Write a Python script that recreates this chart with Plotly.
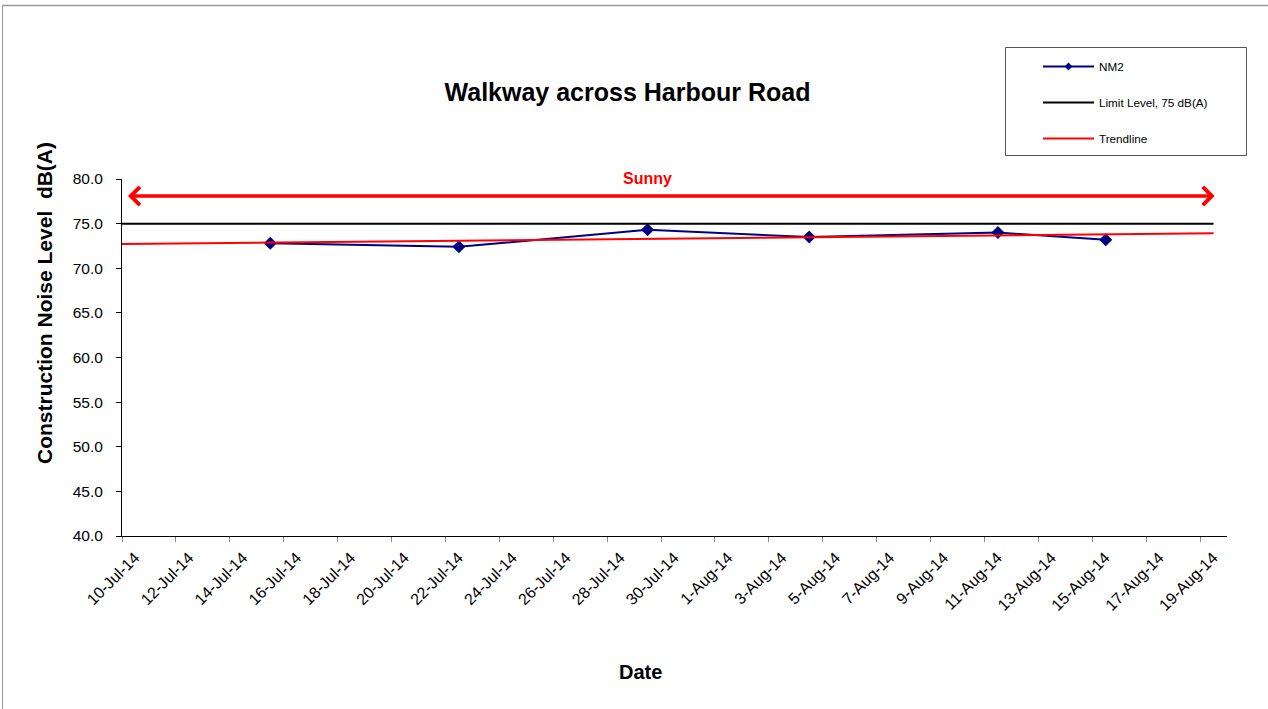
import numpy as np
import pandas as pd
import plotly.graph_objects as go

# ---------------- data ----------------
chart_title = "Walkway across Harbour Road"
x_title = "Date"
y_title = "Construction Noise Level&nbsp; dB(A)"
nm2_dates = ["2014-07-15 12:00", "2014-07-22 12:00", "2014-07-29 12:00",
             "2014-08-04 12:00", "2014-08-11 12:00", "2014-08-15 12:00"]
nm2_values = [72.8, 72.4, 74.3, 73.5, 74.0, 73.2]
limit_dates = ["2014-07-10 00:00", "2014-08-19 12:00"]
limit_values = [75.0, 75.0]
trend_dates = ["2014-07-10 00:00", "2014-08-19 12:00"]
weather_label = "Sunny"
weather_label_date = "2014-07-29 12:00"
weather_start = "2014-07-10 04:00"
weather_end = "2014-08-19 13:00"
weather_level = 78.1
x_range = ["2014-07-10", "2014-08-20"]
y_range = [40, 80]

# linear trendline fitted to the NM2 readings
t0 = pd.Timestamp("2014-07-10")
xd = (pd.to_datetime(nm2_dates, format="ISO8601") - t0) / pd.Timedelta(days=1)
slope, intercept = np.polyfit(np.asarray(xd, dtype=float), np.asarray(nm2_values), 1)
td = (pd.to_datetime(trend_dates, format="ISO8601") - t0) / pd.Timedelta(days=1)
trend_values = [float(v) for v in intercept + slope * np.asarray(td, dtype=float)]

# ---------------- layout geometry ----------------
W, H = 1268, 709
ML, MR, MT, MB = 122, 41, 179, 173
PW, PH = W - ML - MR, H - MT - MB


def px2x(px):
    return (px - ML) / PW


def py2y(py):
    return (H - MB - py) / PH


FONT = "Liberation Sans, Arial, sans-serif"
NAVY = "#000080"

fig = go.Figure()
fig.add_trace(go.Scatter(
    x=nm2_dates, y=nm2_values, name="NM2", mode="lines+markers",
    line=dict(color=NAVY, width=2),
    marker=dict(symbol="diamond", size=10, color=NAVY),
    legendgroup="a", showlegend=False))
# legend entry for NM2 (smaller marker, as in the original legend)
fig.add_trace(go.Scatter(
    x=[None], y=[None], name="NM2", mode="lines+markers",
    line=dict(color=NAVY, width=2),
    marker=dict(symbol="diamond", size=6, color=NAVY),
    legendgroup="a", showlegend=True))
fig.add_trace(go.Scatter(
    x=limit_dates, y=limit_values, name="Limit Level, 75 dB(A)", mode="lines",
    line=dict(color="black", width=2), legendgroup="b"))
fig.add_trace(go.Scatter(
    x=trend_dates, y=trend_values, name="Trendline", mode="lines",
    line=dict(color="#FF0000", width=2), legendgroup="c"))

fig.update_layout(
    width=W, height=H,
    margin=dict(l=ML, r=MR, t=MT, b=MB, autoexpand=False),
    paper_bgcolor="white", plot_bgcolor="white",
    font=dict(family=FONT, color="black"),
    title=dict(text="<b>%s</b>" % chart_title, xref="container", yref="container",
               x=627.5 / W, y=1 - 92 / H, xanchor="center", yanchor="middle",
               font=dict(size=25, family=FONT, color="black")),
    showlegend=True,
    legend=dict(xref="container", yref="container", x=1038 / W, y=1 - 52 / H,
                xanchor="left", yanchor="top", bgcolor="rgba(0,0,0,0)",
                borderwidth=0, font=dict(size=11.7, family=FONT, color="black"),
                itemwidth=51, traceorder="grouped", tracegroupgap=17),
    xaxis=dict(type="date", range=x_range, tick0="2014-07-10", dtick=2 * 86400000,
               tickformat="%-d-%b-%y", tickangle=-45, ticks="outside", ticklen=5,
               tickcolor="#888888", showgrid=False, zeroline=False,
               showline=True, linecolor="black", linewidth=1,
               ticklabelshift=13,
               tickfont=dict(size=16, family=FONT, color="black")),
    yaxis=dict(range=y_range, dtick=5, tickformat=".1f", ticks="outside", ticklen=5,
               tickcolor="black", showgrid=False, zeroline=False,
               showline=True, linecolor="black", linewidth=1,
               ticklabelstandoff=10,
               tickfont=dict(size=15.5, family=FONT, color="black")),
)

# axis titles (placed where the original chart has them)
fig.add_annotation(xref="paper", yref="paper", x=px2x(44), y=py2y(303),
                   text="<b>%s</b>" % y_title, textangle=-90, showarrow=False,
                   xanchor="center", yanchor="middle",
                   font=dict(size=21, family=FONT, color="black"))
fig.add_annotation(xref="paper", yref="paper", x=px2x(640), y=py2y(672),
                   text="<b>%s</b>" % x_title, showarrow=False,
                   xanchor="center", yanchor="middle",
                   font=dict(size=20, family=FONT, color="black"))

# weather annotation: double-headed arrow + label
fig.add_annotation(x=weather_end, y=weather_level, ax=weather_start, ay=weather_level,
                   xref="x", yref="y", axref="x", ayref="y", text="",
                   showarrow=True, arrowside="end+start", arrowhead=4, startarrowhead=4,
                   arrowsize=1, startarrowsize=1, arrowwidth=3.5, arrowcolor="#FF0000")
fig.add_annotation(x=weather_label_date, y=y_range[1], xref="x", yref="y",
                   text="<b>%s</b>" % weather_label, showarrow=False, yshift=1,
                   font=dict(size=16, family=FONT, color="#FF0000"), yanchor="middle")

# legend box and outer chart frame
fig.add_shape(type="rect", xref="paper", yref="paper",
              x0=px2x(1005.5), x1=px2x(1246.5), y0=py2y(155.5), y1=py2y(47.5),
              line=dict(color="#555555", width=1), fillcolor="rgba(0,0,0,0)", layer="above")
fig.add_shape(type="line", xref="paper", yref="paper",
              x0=px2x(2), x1=px2x(1270), y0=py2y(5.5), y1=py2y(5.5),
              line=dict(color="#999999", width=1.5))
fig.add_shape(type="line", xref="paper", yref="paper",
              x0=px2x(2.5), x1=px2x(2.5), y0=py2y(5.5), y1=py2y(712),
              line=dict(color="#999999", width=1))

# let the figure start at the page's top-left corner (no default body margin)
fig.write_html("out.html", config={"displayModeBar": False},
               post_script="document.body.style.margin='0';document.body.style.overflow='hidden';")
